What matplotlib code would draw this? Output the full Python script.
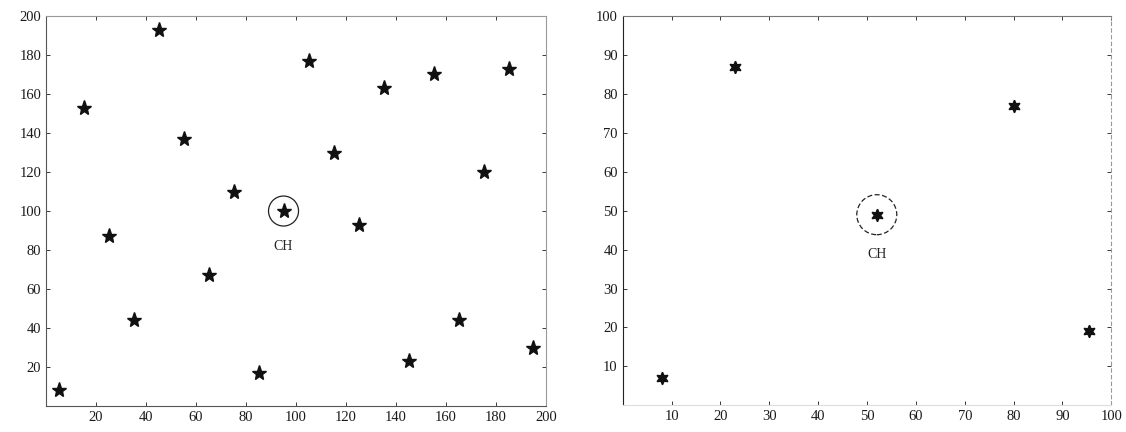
import matplotlib
matplotlib.use("Agg")
import matplotlib.pyplot as plt
from matplotlib.patches import Ellipse

plt.rcParams['font.family'] = ['Liberation Serif', 'DejaVu Serif']

# left panel: 20 nodes in a 200 x 200 field
left_x = [5, 15, 25, 35, 45, 55, 65, 75, 85, 95, 105, 115, 125, 135, 145, 155, 165, 175, 185, 195]
left_y = [8, 153, 87, 44, 193, 137, 67, 110, 17, 100, 177, 130, 93, 163, 23, 170, 44, 120, 173, 30]
left_ch = (95, 100)
left_ticks = [20, 40, 60, 80, 100, 120, 140, 160, 180, 200]

# right panel: 5 nodes in a 100 x 100 field
right_x = [8, 23, 52, 80, 95.5]
right_y = [7, 87, 49, 77, 19]
right_ch = (52, 49)
right_ticks = [10, 20, 30, 40, 50, 60, 70, 80, 90, 100]

W, H = 1126, 432
fig = plt.figure(figsize=(W / 100, H / 100), dpi=100)
ax1 = fig.add_axes([0.0409, 0.060, 0.444, 0.903])
ax2 = fig.add_axes([0.553, 0.062, 0.434, 0.900])


def style(ax):
    ax.tick_params(direction='in', length=3, width=0.6, labelsize=10.5,
                   colors='#1a1a1a', top=True, right=True)
    for side, sp in ax.spines.items():
        sp.set_linewidth(0.8)
        sp.set_color('#555555' if side in ('left', 'bottom') else '#999999')


def ring(ax, center, r_px, ls):
    # circle of fixed pixel radius on an axes with unequal scales
    bb = ax.get_position()
    x0, x1 = ax.get_xlim()
    y0, y1 = ax.get_ylim()
    w = 2 * r_px * (x1 - x0) / (bb.width * W)
    h = 2 * r_px * (y1 - y0) / (bb.height * H)
    ax.add_patch(Ellipse(center, w, h, fill=False, edgecolor='#222222',
                         linewidth=0.9, linestyle=ls))


ax1.plot(left_x, left_y, linestyle='none', marker='*', markersize=11, color='#111111')
ax1.set_xlim(0, 200)
ax1.set_ylim(0, 200)
ring(ax1, left_ch, 15, '-')
ax1.annotate('CH', left_ch, xytext=(0, -21), textcoords='offset points',
             ha='center', va='top', fontsize=10, color='#222222')
ax1.set_xticks(left_ticks)
ax1.set_yticks(left_ticks)
style(ax1)

ax2.plot(right_x, right_y, linestyle='none', marker=(6, 1, 0), markersize=9, color='#111111')
ax2.set_xlim(0, 100)
ax2.set_ylim(0, 100)
ring(ax2, right_ch, 20, (0, (4, 2)))
ax2.annotate('CH', right_ch, xytext=(0, -24), textcoords='offset points',
             ha='center', va='top', fontsize=10, color='#222222')
ax2.set_xticks(right_ticks)
ax2.set_yticks(right_ticks)
style(ax2)
ax2.spines['left'].set_color('#222222')
ax2.spines['bottom'].set_color('#dddddd')
ax2.spines['right'].set_linestyle((0, (3, 3)))
ax2.spines['top'].set_color('#777777')

fig.savefig('out.png', dpi=100)
